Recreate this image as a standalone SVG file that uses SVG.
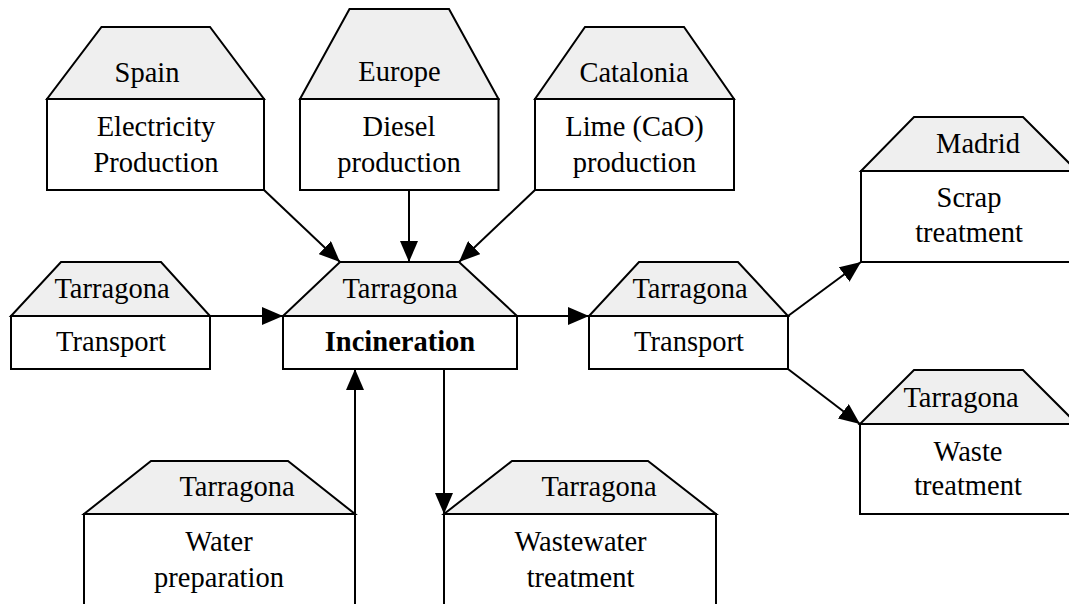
<svg xmlns="http://www.w3.org/2000/svg" width="1069" height="604" viewBox="0 0 1069 604">
  <style>
    .roof { fill: #efefef; stroke: #000; stroke-width: 2; stroke-linejoin: miter; }
    .box { fill: #fff; stroke: #000; stroke-width: 2; }
    .lbl { font-family: 'Liberation Serif', 'Times New Roman', serif; font-size: 28.5px; fill: #000; text-anchor: middle; }
    .bold { font-weight: bold; }
    .edge { fill: none; stroke: #000; stroke-width: 2; }
  </style>
  <defs>
    <marker id="arrow" markerUnits="userSpaceOnUse" markerWidth="21" markerHeight="18" refX="21" refY="9" orient="auto">
      <path d="M0,0 L21,9 L0,18 z" fill="#000"/>
    </marker>
  </defs>
  <rect width="1069" height="604" fill="#fff"/>

  <!-- top row: upstream suppliers -->
  <g id="spain-electricity">
    <polygon class="roof" points="101.5,27 210,27 264,99 47,99"/>
    <rect class="box" x="47" y="99" width="217" height="91"/>
    <text class="lbl" x="147" y="82">Spain</text>
    <text class="lbl" x="156" y="136">Electricity</text>
    <text class="lbl" x="156" y="172">Production</text>
  </g>
  <g id="europe-diesel">
    <polygon class="roof" points="349.5,9 449,9 498.5,99 300,99"/>
    <rect class="box" x="300" y="99" width="198.5" height="91"/>
    <text class="lbl" x="399.5" y="81">Europe</text>
    <text class="lbl" x="399" y="136">Diesel</text>
    <text class="lbl" x="399" y="172">production</text>
  </g>
  <g id="catalonia-lime">
    <polygon class="roof" points="585,27 684,27 734,99 535,99"/>
    <rect class="box" x="535" y="99" width="199" height="91"/>
    <text class="lbl" x="634" y="82">Catalonia</text>
    <text class="lbl" x="634.5" y="136">Lime (CaO)</text>
    <text class="lbl" x="634.5" y="172">production</text>
  </g>

  <!-- middle row -->
  <g id="transport-in">
    <polygon class="roof" points="61,262 161,262 210,316 11,316"/>
    <rect class="box" x="11" y="316" width="199" height="53"/>
    <text class="lbl" x="112" y="298">Tarragona</text>
    <text class="lbl" x="111" y="351">Transport</text>
  </g>
  <g id="incineration">
    <polygon class="roof" points="340,262 459,262 517,316 283,316"/>
    <rect class="box" x="283" y="316" width="234" height="53"/>
    <text class="lbl" x="400" y="298">Tarragona</text>
    <text class="lbl bold" x="400" y="351">Incineration</text>
  </g>
  <g id="transport-out">
    <polygon class="roof" points="639,262 738,262 788,316 589,316"/>
    <rect class="box" x="589" y="316" width="199" height="53"/>
    <text class="lbl" x="690" y="298">Tarragona</text>
    <text class="lbl" x="689" y="351">Transport</text>
  </g>

  <!-- right column: downstream treatment -->
  <g id="madrid-scrap">
    <polygon class="roof" points="914,117 1023,117 1077,171 861,171"/>
    <rect class="box" x="861" y="171" width="220" height="91"/>
    <text class="lbl" x="978" y="153">Madrid</text>
    <text class="lbl" x="969" y="207">Scrap</text>
    <text class="lbl" x="969" y="242">treatment</text>
  </g>
  <g id="tarragona-waste">
    <polygon class="roof" points="914,370 1023,370 1077,424 860,424"/>
    <rect class="box" x="860" y="424" width="221" height="90"/>
    <text class="lbl" x="961" y="407">Tarragona</text>
    <text class="lbl" x="968" y="461">Waste</text>
    <text class="lbl" x="968" y="495">treatment</text>
  </g>

  <!-- bottom row: water services -->
  <g id="water-preparation">
    <polygon class="roof" points="151,461 288,461 355,514 84,514"/>
    <rect class="box" x="84" y="514" width="271" height="100"/>
    <text class="lbl" x="237" y="496">Tarragona</text>
    <text class="lbl" x="219" y="551">Water</text>
    <text class="lbl" x="219" y="587">preparation</text>
  </g>
  <g id="wastewater-treatment">
    <polygon class="roof" points="512,461 648,461 716,514 444,514"/>
    <rect class="box" x="444" y="514" width="272" height="100"/>
    <text class="lbl" x="599" y="496">Tarragona</text>
    <text class="lbl" x="580.5" y="551">Wastewater</text>
    <text class="lbl" x="580.5" y="587">treatment</text>
  </g>

  <!-- flows -->
  <g id="connectors">
    <line class="edge" x1="264" y1="190" x2="340" y2="262" marker-end="url(#arrow)"/>
    <line class="edge" x1="409" y1="190" x2="409" y2="262" marker-end="url(#arrow)"/>
    <line class="edge" x1="535" y1="190" x2="459" y2="262" marker-end="url(#arrow)"/>
    <line class="edge" x1="210" y1="316" x2="283" y2="316" marker-end="url(#arrow)"/>
    <line class="edge" x1="517" y1="316" x2="589" y2="316" marker-end="url(#arrow)"/>
    <line class="edge" x1="788" y1="316" x2="861" y2="262" marker-end="url(#arrow)"/>
    <line class="edge" x1="788" y1="369" x2="860" y2="424" marker-end="url(#arrow)"/>
    <line class="edge" x1="355" y1="610" x2="355" y2="369" marker-end="url(#arrow)"/>
    <line class="edge" x1="444" y1="369" x2="444" y2="514" marker-end="url(#arrow)"/>
  </g>
</svg>
